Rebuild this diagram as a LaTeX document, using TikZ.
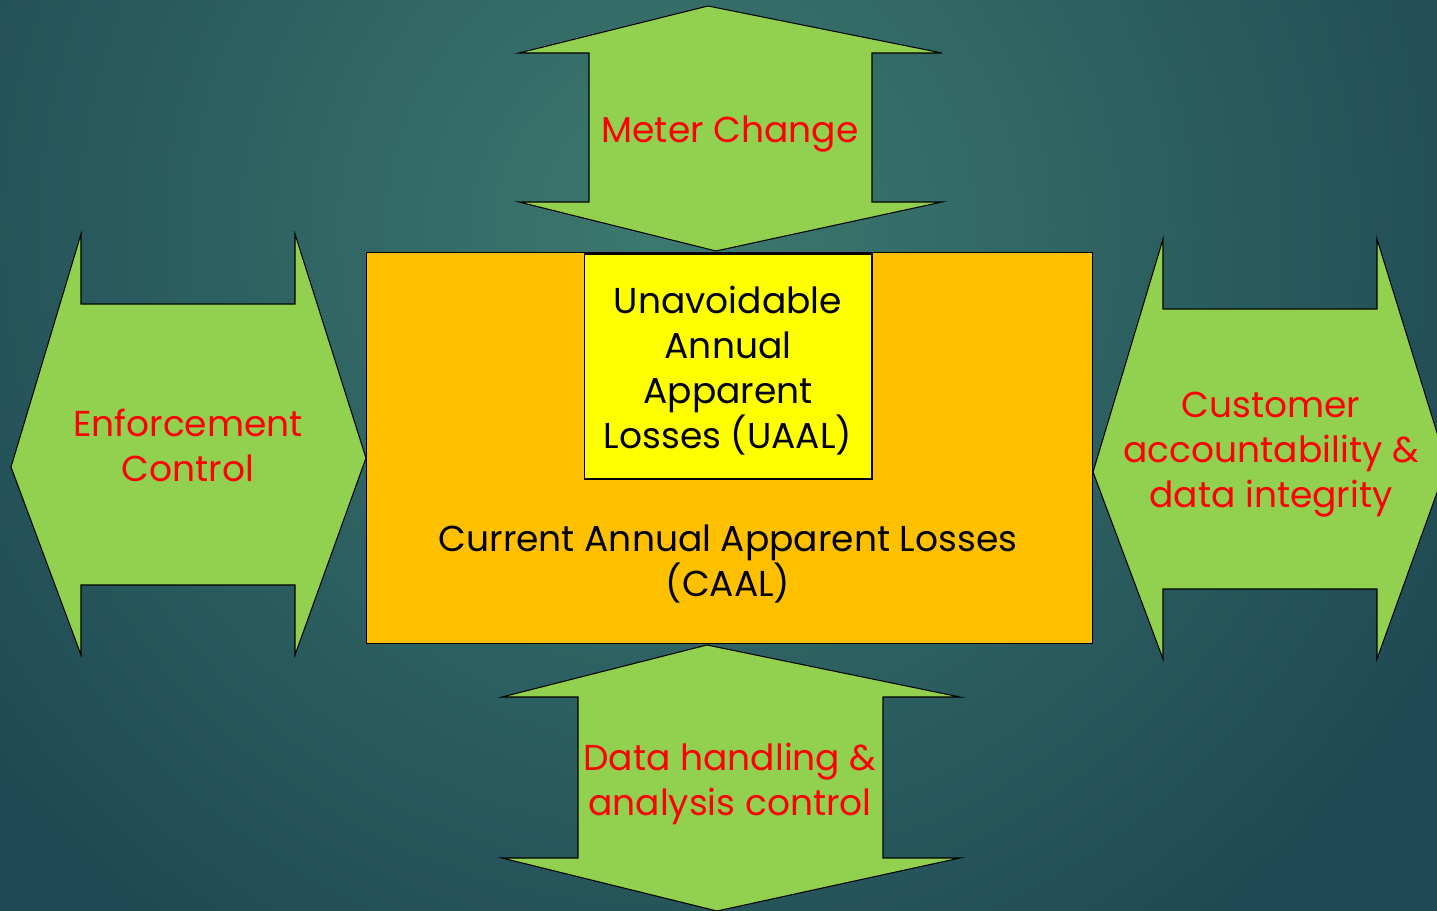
\documentclass[tikz,border=0pt]{standalone}
\usepackage{fontspec}
\setmainfont{Poppins}
\usetikzlibrary{positioning}

\definecolor{gruen}{HTML}{92D050}
\definecolor{orangebox}{HTML}{FFC000}
\definecolor{gelbbox}{HTML}{FFFF00}
\definecolor{bghell}{HTML}{3C7A6F}
\definecolor{bgdunkel}{HTML}{1E4853}

\begin{document}
\begin{tikzpicture}[x=0.02cm,y=-0.02cm,
	pfeil/.style={fill=gruen, draw=black, line width=0.6pt, line join=miter},
	kasten/.style={draw=black, line width=0.6pt, inner sep=0pt},
	schrift/.style={align=center, font=\fontsize{20.5}{25.6}\selectfont},
	rot/.style={schrift, text=red}]
	
	%Hintergrund
	\useasboundingbox (0,0) rectangle (1437,911);
	\clip (0,0) rectangle (1437,911);
	\fill[bgdunkel] (0,0) rectangle (1437,911);
	\shade[inner color=bghell, outer color=bgdunkel] (680,230) circle (900);
	
	%Pfeile
	\draw[pfeil] (708,6) -- (942,53) -- (872,53) -- (872,202) -- (942,202) -- (716,251)
		-- (519,202) -- (589,202) -- (589,53) -- (519,53) -- cycle;
	\draw[pfeil] (11,467) -- (81,234) -- (81,304) -- (295,304) -- (295,234) -- (366,458)
		-- (295,655) -- (295,585) -- (81,585) -- (81,655) -- cycle;
	\draw[pfeil] (1093,472) -- (1163,239) -- (1163,309) -- (1377,309) -- (1377,239) -- (1447,465)
		-- (1377,659) -- (1377,589) -- (1163,589) -- (1163,659) -- cycle;
	\draw[pfeil] (707,645) -- (960,697) -- (883,697) -- (883,858) -- (960,858) -- (717,911)
		-- (502,858) -- (578,858) -- (578,697) -- (502,697) -- cycle;
	
	%Knoten
	\node (caal) [kasten, fill=orangebox, minimum width=14.54cm, minimum height=7.84cm] at (729.5,448) {};
	\node (uaal) [kasten, fill=gelbbox, minimum width=5.76cm, minimum height=4.5cm] at (728,366.5) {};
	\node (uaaltext) [schrift] at (728,370.5) {Unavoidable\\Annual\\Apparent\\Losses (UAAL)};
	\node (caaltext) [schrift, below=0.79cm of uaal] {Current Annual Apparent Losses\\(CAAL)};
	
	\node (meter) [rot] at (730,134) {Meter Change};
	\node (enforce) [rot] at (188,445) {Enforcement\\Control};
	\node (customer) [rot] at (1271,455) {Customer\\accountability \&\\data integrity};
	\node (daten) [rot] at (730,784) {Data handling \&\\analysis control};
	
\end{tikzpicture}
\end{document}
